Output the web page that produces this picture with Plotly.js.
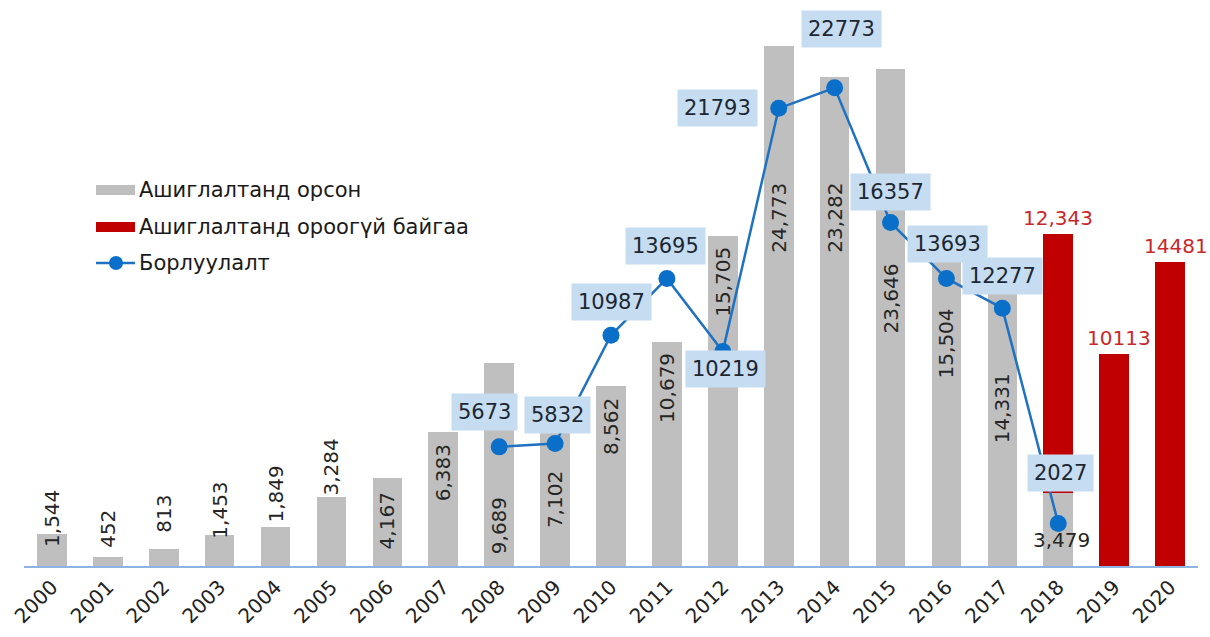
<!DOCTYPE html>
<html><head><meta charset="utf-8">
<script src="https://cdn.plot.ly/plotly-3.0.1.min.js"></script>
<style>html,body{margin:0;padding:0;background:#fff;}</style>
</head><body>
<div id="chart" style="width:1210px;height:637px"></div>
<script>
// ---------- data ----------
const years = ['2000','2001','2002','2003','2004','2005','2006','2007','2008','2009','2010',
               '2011','2012','2013','2014','2015','2016','2017','2018','2019','2020'];
const commissionedYears = years.slice(0, 19);
const commissioned = [1544,452,813,1453,1849,3284,4167,6383,9689,7102,8562,10679,15705,24773,23282,23646,15504,14331,3479];
const notCommissionedYears = ['2018','2019','2020'];
const notCommissioned = [12343,10113,14481];
const salesYears = ['2008','2009','2010','2011','2012','2013','2014','2015','2016','2017','2018'];
const sales = [5673,5832,10987,13695,10219,21793,22773,16357,13693,12277,2027];
const seriesNames = ['Ашиглалтанд орсон','Ашиглалтанд ороогүй байгаа','Борлуулалт'];

// ---------- label placement (layout only) ----------
const grayLabelY = [2286,1762,2476,2667,3429,4714,2143,4429,1905,3143,6619,8476,13524,16571,16571,12714,10619,7524,1238];
const salesLabelShiftX = [-15, 2, 0, -1, 3, -61, 7, 0, 1, 0, 2];
const salesLabelShiftY = [35, 29, 33, 32, -18, 0, 59, 31, 34, 32, 50];
const redLabelShiftX = [0, 5, 6];

const GRAY = '#bfbfbf', RED = '#c00000', BLUE = '#1f72c2', MARK = '#0a6fc9';
const FONT = 'DejaVu Sans, sans-serif';
const fmt = v => v.toLocaleString('en-US');
const xi = yr => years.indexOf(yr);   // category index for annotations

const traces = [
  {type:'bar', x:commissionedYears, y:commissioned, name:seriesNames[0], marker:{color:GRAY}, hoverinfo:'x+y'},
  {type:'bar', x:notCommissionedYears, y:notCommissioned, name:seriesNames[1], marker:{color:RED}, hoverinfo:'x+y'},
  {type:'scatter', mode:'lines+markers', x:salesYears, y:sales, name:seriesNames[2],
   line:{color:BLUE, width:2.5}, marker:{color:MARK, size:17}}
];

const annotations = [];
commissioned.forEach((v,i) => {
  const last = i === commissioned.length - 1;
  annotations.push({x:xi(commissionedYears[i]), y:grayLabelY[i], text:fmt(v), showarrow:false,
    textangle: last ? 0 : -90, xshift: last ? 3 : 0,
    font:{family:FONT, size:20, color:'#262626'}});
});
// stacked tops for red bars
notCommissioned.forEach((v,i) => {
  const yr = notCommissionedYears[i];
  const ci = commissionedYears.indexOf(yr);
  const base = ci >= 0 ? commissioned[ci] : 0;
  annotations.push({x:xi(yr), y:base + v, yanchor:'bottom', yshift:2, xshift:redLabelShiftX[i],
    text: i === 0 ? fmt(v) : String(v), showarrow:false,
    font:{family:FONT, size:20, color:'#c8282c'}});
});
sales.forEach((v,i) => {
  annotations.push({x:xi(salesYears[i]), y:v, text:String(v), showarrow:false,
    xshift:salesLabelShiftX[i], yshift:salesLabelShiftY[i],
    bgcolor:'#c6dcf1', borderpad:6, font:{family:FONT, size:21, color:'#1c2733'}});
});

// custom legend (paper coords), plot area 24..1198 x, 20..566 y
const px = x => (x - 24) / 1174;
const py = y => (566 - y) / 546;
const legendRows = [190, 227, 263];
seriesNames.forEach((n,i) => {
  annotations.push({xref:'paper', yref:'paper', x:px(137), y:py(legendRows[i]), xanchor:'left', yanchor:'middle',
    text:n, showarrow:false, font:{family:FONT, size:21, color:'#1a1a1a'}});
});
const shapes = [
  {type:'rect', xref:'paper', yref:'paper', x0:px(96), x1:px(135), y0:py(195), y1:py(185), fillcolor:GRAY, line:{width:0}},
  {type:'rect', xref:'paper', yref:'paper', x0:px(96), x1:px(135), y0:py(232), y1:py(222), fillcolor:RED, line:{width:0}},
  {type:'line', xref:'paper', yref:'paper', x0:px(96), x1:px(135), y0:py(263), y1:py(263), line:{color:BLUE, width:2.5}},
  {type:'circle', xref:'paper', yref:'paper', xsizemode:'pixel', ysizemode:'pixel',
   xanchor:px(116), yanchor:py(263), x0:-7, x1:7, y0:-7, y1:7, fillcolor:MARK, line:{width:0}}
];

const layout = {
  width:1210, height:637,
  margin:{l:24, r:12, t:20, b:71},
  paper_bgcolor:'#fff', plot_bgcolor:'#fff',
  barmode:'stack', bargap:0.47,
  showlegend:false,
  xaxis:{type:'category', categoryorder:'array', categoryarray:years, range:[-0.5, 20.5],
    showline:true, linecolor:'#8db4e2', linewidth:1.5, showgrid:false, zeroline:false,
    ticks:'', tickangle:-45, tickfont:{family:FONT, size:20, color:'#222'}, fixedrange:true},
  yaxis:{range:[0, 26000], visible:false, showgrid:false, zeroline:false, fixedrange:true},
  annotations, shapes,
  font:{family:FONT}
};
Plotly.newPlot('chart', traces, layout, {displayModeBar:false, staticPlot:true});
</script>
</body></html>
